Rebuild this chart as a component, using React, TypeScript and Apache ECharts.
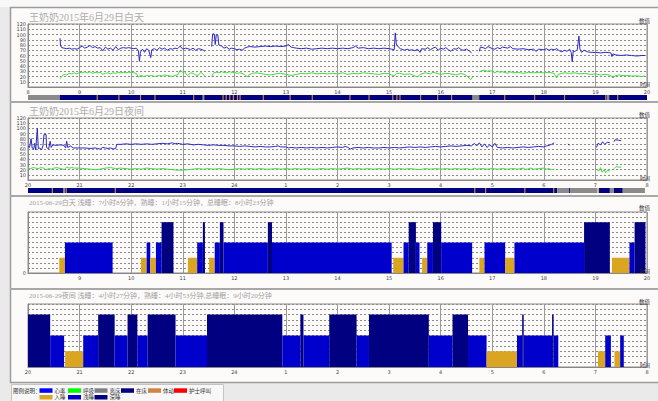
import React, { useEffect, useRef } from "react";
import * as echarts from "echarts";

// ---------- data ----------
const dayTitle = "王奶奶2015年6月29日白天";
const nightTitle = "王奶奶2015年6月29日夜间";
const daySleepTitle = "2015-06-29白天 浅睡：7小时8分钟，熟睡：1小时15分钟，总睡眠：8小时23分钟";
const nightSleepTitle = "2015-06-29夜间 浅睡：4小时27分钟，熟睡：4小时53分钟,总睡眠：9小时20分钟";

const dayHeart: [number, number | null][] = [
  [8.62,93],[8.63,80],[8.65,75],[8.7,74],[8.75,73],[8.8,74],[8.85,72],[8.9,73],[8.95,72],[9.0,75],[9.05,78],[9.1,74],[9.15,76],[9.2,79],[9.25,75],[9.3,77],[9.35,74],[9.4,75],[9.45,69],[9.5,76],[9.55,72],[9.6,74],[9.65,70],[9.7,77],[9.75,71],[9.8,74],[9.85,75],[9.9,74],[9.95,75],[10.0,74],[10.05,73],[10.1,74],[10.14,69],[10.16,49],[10.18,67],[10.22,72],[10.26,66],[10.3,73],[10.34,70],[10.38,56],[10.4,71],[10.45,73],[10.5,70],[10.55,75],[10.6,72],[10.65,74],[10.7,70],[10.75,73],[10.8,72],[10.85,74],[10.9,73],[10.95,78],[11.0,72],[11.05,74],[11.1,73],[11.15,71],[11.2,74],[11.25,70],[11.3,73],[11.35,72],[11.4,70],[11.43,68],[11.5,null],
  [11.56,77],[11.58,101],[11.61,101],[11.63,81],[11.65,100],[11.68,99],[11.7,80],[11.75,78],[11.8,74],[11.85,76],[11.9,72],[11.95,74],[12.0,73],[12.05,71],[12.1,72],[12.15,70],[12.2,74],[12.25,76],[12.3,77],[12.4,76],[12.5,77],[12.6,78],[12.7,77],[12.8,78],[12.9,77],[13.0,78],[13.05,81],[13.1,76],[13.15,75],[13.2,74],[13.3,73],[13.4,74],[13.5,72],[13.6,73],[13.7,74],[13.8,73],[13.9,74],[14.0,73],[14.1,74],[14.2,73],[14.3,75],[14.35,78],[14.4,74],[14.5,75],[14.6,73],[14.7,74],[14.8,73],[14.9,74],[15.0,73],[15.05,72],[15.1,71],[15.12,103],[15.14,82],[15.18,76],[15.22,73],[15.3,70],[15.35,72],[15.4,70],[15.45,71],[15.5,69],[15.55,72],[15.6,66],[15.63,73],[15.7,72],[15.75,75],[15.8,71],[15.85,74],[15.9,76],[15.95,70],[16.0,74],[16.05,72],[16.1,75],[16.15,71],[16.2,68],[16.25,73],[16.3,72],[16.35,75],[16.4,71],[16.45,70],[16.5,72],[16.55,69],[16.6,65],[16.68,null],
  [16.75,68],[16.77,76],[16.82,75],[16.87,73],[16.92,77],[17.0,73],[17.05,72],[17.1,75],[17.15,73],[17.2,76],[17.3,74],[17.35,77],[17.4,73],[17.5,72],[17.6,73],[17.7,71],[17.8,72],[17.85,68],[17.9,72],[18.0,71],[18.05,73],[18.1,70],[18.15,72],[18.2,71],[18.25,73],[18.3,69],[18.35,67],[18.4,70],[18.45,68],[18.5,72],[18.53,66],[18.55,48],[18.57,69],[18.6,67],[18.65,72],[18.68,97],[18.7,72],[18.73,66],[18.78,70],[18.85,67],[18.9,66],[19.0,66],[19.1,65],[19.2,66],[19.3,65],[19.32,58],[19.34,63],[19.4,61],[19.5,60],[19.6,61],[19.7,60],[19.8,59],[19.9,60],[19.96,60]
];

const dayBreath: [number, number | null][] = [
  [8.62,16],[8.66,21],[8.7,24],[8.75,23],[8.8,26],[8.85,25],[8.9,27],[8.95,25],[9.0,28],[9.05,27],[9.1,29],[9.15,27],[9.2,29],[9.25,26],[9.3,28],[9.35,27],[9.4,28],[9.45,24],[9.5,26],[9.55,27],[9.6,25],[9.65,27],[9.7,26],[9.75,28],[9.8,27],[9.85,28],[9.9,27],[9.95,28],[10.0,28],[10.05,27],[10.1,26],[10.14,19],[10.18,22],[10.25,20],[10.3,22],[10.35,21],[10.4,22],[10.45,20],[10.5,21],[10.55,22],[10.6,21],[10.65,23],[10.7,22],[10.75,21],[10.8,20],[10.85,22],[10.9,23],[10.95,32],[11.0,28],[11.03,30],[11.07,24],[11.1,22],[11.15,27],[11.2,26],[11.25,23],[11.3,22],[11.35,28],[11.4,24],[11.43,20],[11.5,null],
  [11.56,20],[11.6,27],[11.65,28],[11.7,27],[11.75,29],[11.8,28],[11.85,27],[11.9,29],[11.95,28],[12.0,28],[12.05,26],[12.1,27],[12.15,26],[12.2,24],[12.25,19],[12.28,23],[12.35,26],[12.4,27],[12.5,26],[12.6,24],[12.7,23],[12.8,25],[12.9,26],[13.0,24],[13.1,22],[13.2,24],[13.3,26],[13.4,25],[13.5,27],[13.6,25],[13.7,26],[13.8,25],[13.9,26],[14.0,25],[14.1,27],[14.2,24],[14.3,26],[14.4,25],[14.5,27],[14.6,26],[14.7,25],[14.8,24],[14.9,26],[15.0,25],[15.05,23],[15.1,21],[15.15,26],[15.2,26],[15.3,24],[15.4,25],[15.5,21],[15.55,19],[15.6,24],[15.7,27],[15.8,25],[15.85,28],[15.9,27],[16.0,24],[16.1,26],[16.2,25],[16.3,23],[16.4,26],[16.45,24],[16.5,22],[16.58,14],[16.62,19],[16.68,null],
  [16.75,29],[16.8,31],[16.85,32],[16.9,30],[16.95,31],[17.0,30],[17.05,27],[17.1,30],[17.15,28],[17.2,29],[17.3,26],[17.35,29],[17.4,27],[17.5,28],[17.6,26],[17.7,28],[17.8,27],[17.9,28],[18.0,27],[18.1,28],[18.2,26],[18.25,17],[18.28,24],[18.35,26],[18.4,27],[18.5,26],[18.6,27],[18.7,25],[18.8,26],[18.9,24],[19.0,25],[19.1,23],[19.2,24],[19.3,22],[19.34,17],[19.38,21],[19.45,23],[19.5,22],[19.6,22],[19.7,21],[19.8,21],[19.9,20],[19.96,21]
];

const nightHeart: [number, number | null][] = [
  [20.0,65],[20.03,63],[20.06,80],[20.08,62],[20.11,60],[20.13,71],[20.15,58],[20.18,100],[20.2,61],[20.23,62],[20.26,58],[20.29,66],[20.31,88],[20.35,88],[20.36,63],[20.4,60],[20.43,75],[20.45,63],[20.48,68],[20.55,67],[20.62,68],[20.7,67],[20.73,62],[20.75,75],[20.77,63],[20.82,66],[20.88,62],[20.95,62],[21.0,62],[21.1,62],[21.2,61],[21.3,62],[21.35,61],[21.4,60],[21.45,63],[21.5,62],[21.55,61],[21.6,62],[21.65,60],[21.7,61],[21.72,69],[21.8,69],[21.9,70],[22.0,69],[22.1,70],[22.2,69],[22.3,70],[22.4,69],[22.5,70],[22.6,71],[22.7,70],[22.8,72],[22.85,70],[22.9,71],[23.0,69],[23.1,70],[23.2,68],[23.3,69],[23.4,68],[23.5,67],[23.6,68],[23.7,67],[23.8,67],[23.9,66],[24.0,66],[24.1,65],[24.2,66],[24.3,65],[24.4,64],[24.5,65],[24.6,64],[24.7,64],[24.8,65],[24.85,66],[24.9,64],[25.0,64],[25.05,62],[25.1,63],[25.2,62],[25.3,63],[25.4,62],[25.5,63],[25.6,62],[25.7,63],[25.8,62],[25.9,63],[26.0,64],[26.1,63],[26.15,65],[26.2,63],[26.25,60],[26.3,62],[26.4,63],[26.5,62],[26.6,63],[26.7,62],[26.8,62],[26.9,63],[27.0,62],[27.1,63],[27.2,62],[27.3,63],[27.4,64],[27.5,63],[27.6,64],[27.7,63],[27.8,64],[27.9,65],[28.0,64],[28.1,65],[28.2,66],[28.3,65],[28.4,66],[28.5,67],[28.6,66],[28.65,71],[28.7,66],[28.75,72],[28.8,64],[28.85,70],[28.9,63],[28.95,68],[29.0,64],[29.05,71],[29.1,63],[29.2,62],[29.3,63],[29.4,62],[29.5,63],[29.6,64],[29.7,63],[29.8,64],[29.9,65],[30.0,64],[30.05,66],[30.1,67],[30.15,69],[30.2,72],[30.25,null],
  [30.47,70],[30.49,67],[30.5,null],
  [31.02,63],[31.05,71],[31.1,68],[31.14,74],[31.18,69],[31.23,73],[31.28,72],[31.32,null],
  [31.36,74],[31.38,78],[31.45,77],[31.5,76]
];

const nightBreath: [number, number | null][] = [
  [20.0,23],[20.05,22],[20.1,24],[20.15,23],[20.2,22],[20.25,24],[20.3,23],[20.35,20],[20.4,22],[20.45,21],[20.5,23],[20.55,24],[20.6,23],[20.65,22],[20.7,20],[20.75,25],[20.8,23],[20.85,24],[20.9,23],[21.0,23],[21.1,22],[21.2,21],[21.3,20],[21.4,21],[21.5,23],[21.6,24],[21.7,22],[21.8,23],[21.9,22],[22.0,21],[22.1,22],[22.2,21],[22.3,23],[22.4,22],[22.5,21],[22.6,22],[22.7,21],[22.8,20],[22.9,19],[23.0,19],[23.1,20],[23.2,21],[23.3,22],[23.4,21],[23.5,22],[23.6,21],[23.7,22],[23.8,21],[23.9,20],[24.0,21],[24.1,22],[24.2,21],[24.3,22],[24.4,21],[24.5,22],[24.6,21],[24.7,21],[24.8,22],[24.9,21],[25.0,22],[25.1,21],[25.2,22],[25.3,21],[25.4,22],[25.5,21],[25.6,21],[25.7,22],[25.8,21],[25.9,22],[26.0,21],[26.1,22],[26.2,23],[26.3,21],[26.4,22],[26.5,21],[26.6,22],[26.7,21],[26.8,22],[26.9,21],[27.0,22],[27.1,21],[27.2,22],[27.3,21],[27.4,22],[27.5,21],[27.6,20],[27.7,22],[27.8,21],[27.9,22],[28.0,21],[28.1,22],[28.2,21],[28.3,22],[28.4,21],[28.5,22],[28.6,20],[28.65,23],[28.7,21],[28.8,22],[28.9,21],[29.0,22],[29.1,21],[29.2,22],[29.3,21],[29.4,22],[29.5,21],[29.6,23],[29.65,20],[29.7,22],[29.75,23],[29.8,21],[29.9,22],[30.0,23],[30.05,21],[30.1,22],[30.15,20],[30.2,21],[30.25,null],
  [30.47,29],[30.49,29],[30.5,null],
  [31.03,21],[31.06,17],[31.1,24],[31.13,15],[31.17,20],[31.2,14],[31.24,19],[31.28,17],[31.32,null],
  [31.36,22],[31.4,26],[31.45,25],[31.5,25]
];

// band segments: [start, end, kind] kind 0=在床 1=离床
const dayBedBlocks: [number, number, number][] = [
  [8.61, 20, 0], [8.0, 8.61, 1], [11.38, 11.42, 1], [16.61, 16.75, 1], [19.22, 19.27, 1]
];
const dayMoves: number[] = [9.33, 9.75, 10.17, 10.45, 11.2, 11.77, 11.83, 11.9, 11.97, 12.05, 12.1, 12.55, 13.07, 13.5, 14.23, 14.6, 15.06, 15.14, 15.2, 15.6, 15.93, 16.2, 17.23, 17.81, 18.39, 19.19, 19.42];
const nightBedBlocks: [number, number, number][] = [
  [20, 30.26, 0], [20.68, 20.72, 1], [30.26, 30.49, 1], [30.49, 30.51, 0], [30.51, 31.03, 1],
  [31.07, 31.28, 0], [31.28, 31.36, 1], [31.36, 31.53, 0], [31.53, 31.96, 1]
];
const nightMoves: number[] = [20.46, 20.73, 21.68, 28.65, 28.86, 29.62, 30.18, 31.04];

// sleep stages: [start, end, level] 3=入睡 6=浅睡 10=深睡
const daySleep: [number, number, number][] = [
  [8.606,8.716,3],[8.716,9.64,6],[10.19,10.30,3],[10.30,10.37,6],[10.37,10.48,3],[10.48,10.59,6],[10.59,10.82,10],
  [11.10,11.28,3],[11.28,11.39,6],[11.39,11.43,10],[11.51,11.62,3],[11.62,11.72,6],[11.72,11.79,10],[11.79,12.65,6],
  [12.65,12.73,10],[12.73,15.05,6],[15.08,15.28,3],[15.28,15.38,6],[15.38,15.52,10],[15.52,15.59,6],[15.64,15.74,3],
  [15.74,15.85,6],[15.85,16.01,10],[16.01,16.61,6],[16.75,16.85,3],[16.85,17.25,6],[17.25,17.43,3],[17.43,18.78,6],
  [18.78,19.28,10],[19.32,19.66,3],[19.66,19.76,6],[19.76,19.97,10]
];
const nightSleep: [number, number, number][] = [
  [20.0,20.43,10],[20.43,20.70,6],[20.72,21.07,3],[21.07,21.36,6],[21.36,21.68,10],[21.68,21.93,6],[21.93,22.12,10],
  [22.12,22.32,6],[22.32,22.86,10],[22.86,23.47,6],[23.47,24.93,10],[24.93,25.28,6],[25.28,25.34,10],[25.34,25.84,6],
  [25.84,26.37,10],[26.37,26.61,6],[26.61,27.77,10],[27.77,28.23,6],[28.23,28.53,10],[28.53,28.89,6],[28.89,29.48,3],
  [29.48,29.58,6],[29.58,29.61,10],[29.61,30.16,6],[30.16,30.19,10],[30.19,30.28,6],[31.05,31.19,3],[31.19,31.30,6],
  [31.37,31.48,3],[31.48,31.55,6]
];

const legendRow1 = [
  { name: "心率", color: "#0000ff" }, { name: "呼吸", color: "#00ff00" }, { name: "离床", color: "#808080" },
  { name: "在床", color: "#000080" }, { name: "体动", color: "#cd853f" }, { name: "护士呼叫", color: "#ff0000" }
];
const legendRow2 = [
  { name: "入睡", color: "#daa520" }, { name: "浅睡", color: "#0000cd" }, { name: "深睡", color: "#000080" }
];

// ---------- styling ----------
const FONT_CJK = '"Liberation Serif", "Noto Sans CJK SC", serif';
const bandColors = ["#000080", "#8a8a8a", "#c8843c"];
const stageColor: Record<number, string> = { 3: "#daa520", 6: "#0000cd", 10: "#000080" };

function buildBand(blocks: [number, number, number][], moves: number[]) {
  return [...blocks, ...moves.map((h) => [h, h + 0.02, 2] as [number, number, number])];
}

const tinyLabel = { fontSize: 5, color: "#444", fontFamily: "DejaVu Sans" };

function xAx(gi: number, min: number, max: number, opts: any = {}) {
  return {
    type: "value", gridIndex: gi, min, max, interval: 1,
    axisLine: { show: true, lineStyle: { color: "#888", width: 1 } },
    axisTick: { show: false },
    axisLabel: { ...tinyLabel, margin: 2, showMinLabel: opts.showMin !== false, showMaxLabel: true, formatter: opts.fmt },
    splitLine: { show: true, lineStyle: { color: "#9a9a9a", width: 1 } },
  };
}
function yAx(gi: number, max: number, interval: number, fmt: any) {
  return {
    type: "value", gridIndex: gi, min: 0, max, interval,
    axisLine: { show: true, lineStyle: { color: "#888" } },
    axisTick: { show: false },
    axisLabel: { ...tinyLabel, margin: 2, formatter: fmt },
    splitLine: { show: true, lineStyle: { color: "#8a8a8a", width: 1, type: [2, 2] } },
  };
}
function hiddenX(gi: number, min: number, max: number) {
  return { type: "value", gridIndex: gi, min, max, show: false, splitLine: { show: false } };
}
function hiddenY(gi: number) {
  return { type: "value", gridIndex: gi, min: 0, max: 1, show: false, splitLine: { show: false } };
}

const nightFmt = (v: number) => String(v > 24 ? v - 24 : v);

function lineSeries(xi: number, data: any[], color: string) {
  return {
    type: "line", xAxisIndex: xi, yAxisIndex: xi, data, showSymbol: false, symbol: "none",
    connectNulls: false, lineStyle: { width: 1, color }, itemStyle: { color }, silent: true, z: 3,
  };
}
function bandSeries(xi: number, data: any[]) {
  return {
    type: "custom", xAxisIndex: xi, yAxisIndex: xi, data, silent: true,
    encode: { x: [0, 1], y: 2 },
    renderItem: (_p: any, api: any) => {
      const a = api.coord([api.value(0), 1]);
      const b = api.coord([api.value(1), 0]);
      return { type: "rect", shape: { x: a[0], y: a[1], width: Math.max(b[0] - a[0], 1.2), height: b[1] - a[1] }, style: { fill: bandColors[api.value(2)] } };
    },
  };
}
function sleepSeries(xi: number, data: any[]) {
  return {
    type: "custom", xAxisIndex: xi, yAxisIndex: xi, data, silent: true,
    encode: { x: [0, 1], y: 2 },
    renderItem: (_p: any, api: any) => {
      const lvl = api.value(2);
      const a = api.coord([api.value(0), lvl]);
      const b = api.coord([api.value(1), 0]);
      return { type: "rect", shape: { x: a[0], y: a[1], width: Math.max(b[0] - a[0], 1.2), height: b[1] - a[1] }, style: { fill: stageColor[lvl] } };
    },
  };
}

function txt(x: number, y: number, text: string, size: number, fill: string, align = "left", family = FONT_CJK) {
  return {
    type: "text", x, y, z: 20, silent: true,
    style: { text, fill, fontSize: size, fontFamily: family, align, verticalAlign: "middle", textAlign: align, textVerticalAlign: "middle" },
  };
}

function buildGraphic() {
  const els: any[] = [
    { type: "rect", z: -10, silent: true, shape: { x: 0, y: 0, width: 658, height: 401 }, style: { fill: "#eaeaea" } },
    { type: "rect", z: -10, silent: true, shape: { x: 0, y: 0, width: 658, height: 7 }, style: { fill: "#f8f8f8" } },
    { type: "rect", z: -9, silent: true, shape: { x: 10.5, y: 7.5, width: 660, height: 375 }, style: { fill: "#fdfafa", stroke: "#9c9c9c", lineWidth: 1.5 } },
  ];
  [102, 196, 289].forEach((y) => {
    els.push({ type: "line", z: -8, silent: true, shape: { x1: 10, y1: y, x2: 658, y2: y }, style: { stroke: "#a8a8a8", lineWidth: 2 } });
  });
  els.push({ type: "rect", z: -8, silent: true, shape: { x: 11.5, y: 384.5, width: 212, height: 20 }, style: { fill: "#f8f8f8", stroke: "#c4c4c4", lineWidth: 1 } });

  els.push(txt(29, 17, dayTitle, 10, "#adadad"));
  els.push(txt(29, 111, nightTitle, 10, "#adadad"));
  els.push(txt(29, 203, daySleepTitle, 7, "#a0a0a0"));
  els.push(txt(29, 296, nightSleepTitle, 7, "#a0a0a0"));

  [21, 115, 207.5, 301.5].forEach((y) => els.push(txt(650, y, "数值", 5.5, "#333", "right", '"Noto Sans CJK SC"')));
  [83.5, 177.5, 270.5, 364].forEach((y) => els.push(txt(650, y, "时间", 5, "#333", "right", '"Noto Sans CJK SC"')));

  els.push(txt(13, 390.7, "图例说明：", 5.5, "#333", "left", '"Noto Sans CJK SC"'));
  const row1X = [39.5, 68, 94.5, 121, 148, 174];
  legendRow1.forEach((it, i) => {
    els.push({ type: "rect", z: 20, silent: true, shape: { x: row1X[i], y: 388.3, width: 13, height: 4.5 }, style: { fill: it.color } });
    els.push(txt(row1X[i] + 15, 390.7, it.name, 5.5, "#333", "left", '"Noto Sans CJK SC"'));
  });
  legendRow2.forEach((it, i) => {
    els.push({ type: "rect", z: 20, silent: true, shape: { x: row1X[i], y: 395, width: 13, height: 4.5 }, style: { fill: it.color } });
    els.push(txt(row1X[i] + 15, 397.3, it.name, 5.5, "#333", "left", '"Noto Sans CJK SC"'));
  });
  return els;
}

export default function App() {
  const ref = useRef<HTMLDivElement>(null);
  useEffect(() => {
    if (!ref.current) return;
    const chart = echarts.init(ref.current, null, { renderer: "svg" });
    const gridBase = { left: 28, width: 619, show: true, borderColor: "#8c8c8c", borderWidth: 1, backgroundColor: "transparent", containLabel: false };
    const option: any = {
      animation: false,
      grid: [
        { ...gridBase, top: 24, height: 63 },
        { left: 28, width: 619, top: 95, height: 5 },
        { ...gridBase, top: 118, height: 62 },
        { left: 28, width: 619, top: 188, height: 5 },
        { ...gridBase, top: 212, height: 61 },
        { ...gridBase, top: 304, height: 63 },
      ],
      xAxis: [
        xAx(0, 8, 20),
        hiddenX(1, 8, 20),
        xAx(2, 20, 32, { fmt: nightFmt }),
        hiddenX(3, 20, 32),
        xAx(4, 8, 20, { showMin: false }),
        xAx(5, 20, 32, { fmt: nightFmt }),
      ],
      yAxis: [
        yAx(0, 120, 10, (v: number) => (v === 0 ? "" : String(v))),
        hiddenY(1),
        yAx(2, 120, 10, (v: number) => (v === 0 ? "" : String(v))),
        hiddenY(3),
        yAx(4, 12, 1, (v: number) => (v === 0 ? "0" : "")),
        yAx(5, 12, 1, () => ""),
      ],
      graphic: buildGraphic(),
      series: [
        lineSeries(0, dayHeart, "#2a2ac6"),
        lineSeries(0, dayBreath, "#3ee03e"),
        bandSeries(1, buildBand(dayBedBlocks, dayMoves)),
        lineSeries(2, nightHeart, "#2a2ac6"),
        lineSeries(2, nightBreath, "#3ee03e"),
        bandSeries(3, buildBand(nightBedBlocks, nightMoves)),
        sleepSeries(4, daySleep),
        sleepSeries(5, nightSleep),
      ],
    };
    chart.setOption(option);
    return () => chart.dispose();
  }, []);
  return <div ref={ref} style={{ position: "absolute", left: 0, top: 0, width: 658, height: 401 }} />;
}
